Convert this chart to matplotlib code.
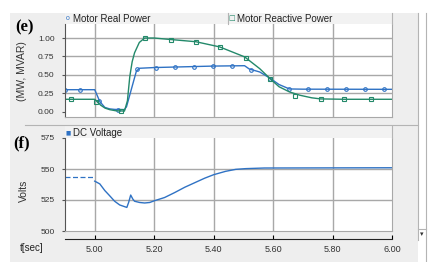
import matplotlib
matplotlib.use('Agg')
import matplotlib.pyplot as plt
from matplotlib.patches import Rectangle
from matplotlib.lines import Line2D

# ---- data ----
real_t = [4.90, 5.00, 5.017, 5.034, 5.05, 5.067, 5.10, 5.107, 5.118, 5.129, 5.14, 5.15,
          5.20, 5.30, 5.40, 5.504, 5.52, 5.555, 5.588, 5.62, 5.655, 5.70, 6.00]
real_p = [0.30, 0.30, 0.14, 0.06, 0.04, 0.033, 0.03, 0.07, 0.23, 0.39, 0.55, 0.59,
          0.60, 0.61, 0.62, 0.625, 0.58, 0.54, 0.46, 0.37, 0.31, 0.307, 0.305]
real_mark_t = [4.90, 4.951, 5.015, 5.079, 5.143, 5.206, 5.270, 5.334, 5.398, 5.462,
               5.526, 5.590, 5.654, 5.717, 5.781, 5.845, 5.909, 5.973]
real_mark_p = [0.30, 0.30, 0.15, 0.03, 0.58, 0.60, 0.61, 0.61, 0.62, 0.62,
               0.57, 0.45, 0.31, 0.307, 0.305, 0.305, 0.305, 0.305]

react_t = [4.90, 5.00, 5.01, 5.02, 5.035, 5.05, 5.07, 5.10, 5.11, 5.118, 5.126, 5.134,
           5.15, 5.168, 5.20, 5.255, 5.34, 5.42, 5.504, 5.555, 5.595, 5.62, 5.655,
           5.69, 5.73, 5.76, 5.84, 6.00]
react_q = [0.17, 0.17, 0.13, 0.09, 0.05, 0.03, 0.015, 0.01, 0.15, 0.48, 0.68, 0.80,
           0.94, 1.00, 1.00, 0.98, 0.95, 0.88, 0.745, 0.585, 0.43, 0.34, 0.27,
           0.225, 0.19, 0.175, 0.17, 0.17]
react_mark_t = [4.92, 5.003, 5.088, 5.17, 5.255, 5.34, 5.42, 5.51, 5.59, 5.675,
                5.76, 5.84, 5.93]
react_mark_q = [0.17, 0.14, 0.01, 1.00, 0.98, 0.95, 0.88, 0.73, 0.45, 0.215,
                0.175, 0.17, 0.17]

dc_pre_t = [4.90, 5.00]
dc_pre_v = [543.5, 543.5]
dc_t = [5.00, 5.017, 5.034, 5.050, 5.067, 5.084, 5.101, 5.108, 5.114, 5.121, 5.128,
        5.134, 5.151, 5.168, 5.185, 5.202, 5.235, 5.269, 5.303, 5.336, 5.370, 5.400,
        5.440, 5.474, 5.508, 5.571, 6.00]
dc_v = [540.2, 538.0, 532.6, 528.5, 524.0, 521.0, 519.6, 519.0, 523.0, 529.0, 525.8,
        524.0, 523.0, 522.6, 523.0, 524.5, 527.0, 531.0, 535.3, 538.9, 542.6, 545.4,
        548.1, 549.7, 550.3, 550.8, 551.0]

x_ticks = [5.00, 5.20, 5.40, 5.60, 5.80, 6.00]
top_ticks = [0.00, 0.25, 0.50, 0.75, 1.00]
bot_ticks = [500, 525, 550, 575]

W, H = 432, 262
BLUE = '#2f72c4'
GREEN = '#23896a'
GRID = '#a8a8a8'
BG = '#eeeeee'
FONT = 'Liberation Sans'


def fx(px):
    return px / W


def fy(py):
    return 1 - py / H


fig = plt.figure(figsize=(W / 100, H / 100), dpi=100, facecolor='white')

# window background and chrome
fig.patches.append(Rectangle((fx(10), 0), fx(408), fy(13), transform=fig.transFigure,
                             facecolor=BG, edgecolor='none', zorder=-10))
for px0, px1, py0, py1 in [(65, 392, 13, 24), (65, 392, 126, 138)]:
    fig.patches.append(Rectangle((fx(px0), fy(py1)), fx(px1 - px0), fy(py0) - fy(py1),
                                 transform=fig.transFigure, facecolor='#f2f2f2',
                                 edgecolor='none', zorder=-5))
chrome = [((392, 392), (13, 24)), ((228, 228), (13, 24)), ((392, 392), (126, 138)),
          ((25, 418), (125, 125)), ((418, 418), (13, 240)), ((426, 426), (13, 262)),
          ((418, 426), (229, 229))]
for xs, ys in chrome:
    fig.lines.append(Line2D([fx(x) for x in xs], [fy(y) for y in ys],
                            transform=fig.transFigure, color='#b4b4b4', lw=0.8))
fig.text(fx(422), fy(234), '\u25be', fontsize=5, ha='center', va='center', color='#333333')


def style_axes(ax, ylim, ticks, grid_ticks):
    ax.set_xlim(4.9, 6.0)
    ax.set_ylim(*ylim)
    ax.set_yticks(ticks)
    ax.set_xticks(x_ticks)
    ax.tick_params(axis='x', length=0, labelbottom=False)
    ax.tick_params(axis='y', length=2, width=0.8, pad=5.5, labelsize=6,
                   colors='#555555', labelcolor='#333333')
    for lab in ax.get_yticklabels():
        lab.set_family(FONT)
    ax.spines['top'].set_visible(False)
    ax.spines['left'].set_color('#555555')
    ax.spines['bottom'].set_color(GRID)
    ax.spines['right'].set_color(GRID)
    for t in x_ticks[:-1]:
        ax.axvline(t, color=GRID, lw=1.0, zorder=0)
    for v in grid_ticks:
        ax.axhline(v, color=GRID, lw=1.0, zorder=0)


# ---- panel (e) ----
ax1 = fig.add_axes([fx(65), fy(117), fx(327), fy(24) - fy(117)])
style_axes(ax1, (-0.07, 1.19), top_ticks, [0.25, 0.50, 0.75, 1.00])
ax1.set_yticklabels(['0.00', '0.25', '0.50', '0.75', '1.00'])
ax1.plot(real_t, real_p, color=BLUE, lw=1.0)
ax1.plot(real_mark_t, real_mark_p, ls='none', marker='o', ms=2.6, mfc='none',
         mec=BLUE, mew=0.8)
ax1.plot(react_t, react_q, color=GREEN, lw=1.0)
ax1.plot(react_mark_t, react_mark_q, ls='none', marker='s', ms=3.0, mfc='none',
         mec=GREEN, mew=0.8)

# ---- panel (f) ----
ax2 = fig.add_axes([fx(65), fy(231), fx(327), fy(138) - fy(231)])
style_axes(ax2, (500, 575), bot_ticks, [525, 550])
ax2.plot(dc_pre_t, dc_pre_v, color=BLUE, lw=0.9, ls=(0, (4, 2)))
ax2.plot(dc_t, dc_v, color=BLUE, lw=1.0)

# ---- separate time axis ----
axx = fig.add_axes([fx(65), fy(239), fx(327), 0.0001])
axx.set_xlim(4.9, 6.0)
axx.set_xticks(x_ticks)
axx.set_xticklabels(['%.2f' % t for t in x_ticks])
axx.set_yticks([])
for s in ['top', 'left', 'right']:
    axx.spines[s].set_visible(False)
axx.spines['bottom'].set_color('#222222')
axx.tick_params(axis='x', direction='in', length=3, width=0.8, pad=4,
                labelsize=6.5, labelcolor='#333333')
for lab in axx.get_xticklabels():
    lab.set_family(FONT)

# ---- texts ----
fig.text(fx(68), fy(18.5), 'o', fontsize=5, color=BLUE, ha='center', va='center', family=FONT)
fig.text(fx(73), fy(18.5), 'Motor Real Power', fontsize=7, ha='left', va='center',
         color='#222222', family=FONT)
fig.text(fx(232), fy(18.5), '\u25a1', fontsize=5, color=GREEN, ha='center', va='center')
fig.text(fx(237), fy(18.5), 'Motor Reactive Power', fontsize=7, ha='left', va='center',
         color='#222222', family=FONT)
fig.text(fx(68), fy(132.5), '\u25a0', fontsize=4, color=BLUE, ha='center', va='center')
fig.text(fx(73), fy(132.5), 'DC Voltage', fontsize=7, ha='left', va='center',
         color='#222222', family=FONT)

fig.text(fx(24), fy(27), '(e)', fontsize=12, fontweight='bold', ha='center', va='center',
         family='Liberation Serif')
fig.text(fx(22), fy(143), '(f)', fontsize=12, fontweight='bold', ha='center', va='center',
         family='Liberation Serif')
fig.text(fx(22), fy(71), '(MW, MVAR)', fontsize=7.5, rotation=90, ha='center', va='center',
         color='#333333', family=FONT)
fig.text(fx(24), fy(191), 'Volts', fontsize=7.5, rotation=90, ha='center', va='center',
         color='#333333', family=FONT)
fig.text(fx(32), fy(248), 't[sec]', fontsize=7, ha='center', va='center',
         color='#222222', family=FONT)

fig.savefig('out.png', dpi=100, facecolor='white')
